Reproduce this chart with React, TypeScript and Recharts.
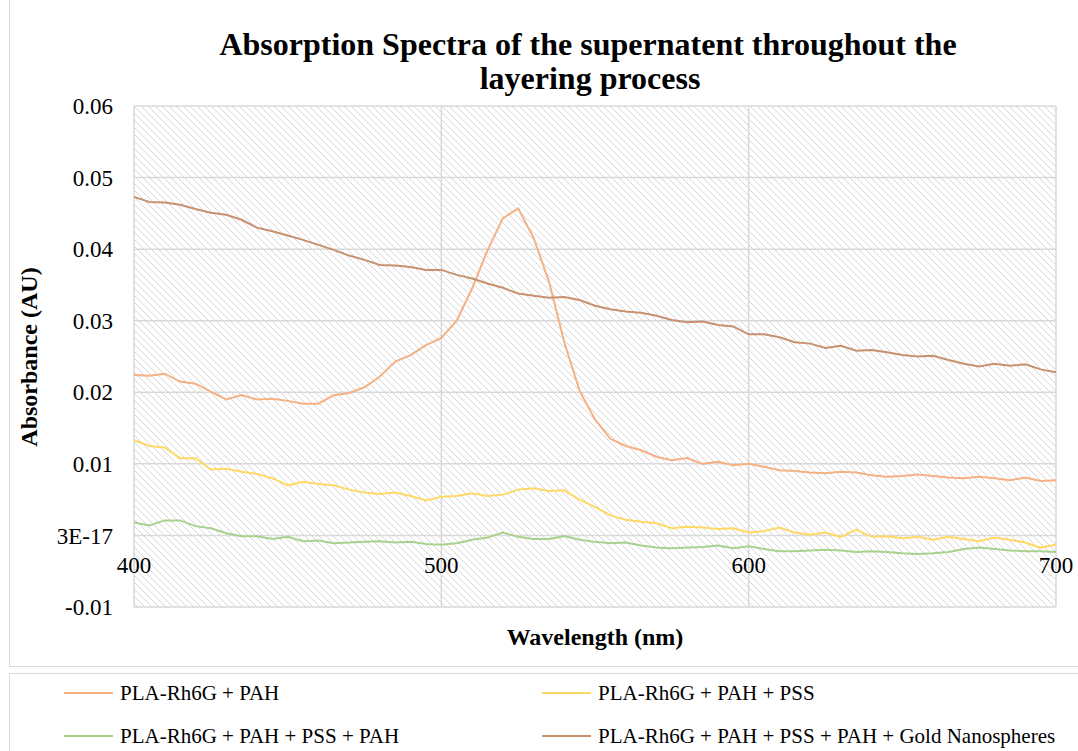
import React from "react";
import { LineChart, Line, XAxis, YAxis, CartesianGrid } from "recharts";

const wavelengths = [
  400, 405, 410, 415, 420, 425, 430, 435, 440, 445, 450, 455, 460, 465, 470,
  475, 480, 485, 490, 495, 500, 505, 510, 515, 520, 525, 530, 535, 540, 545,
  550, 555, 560, 565, 570, 575, 580, 585, 590, 595, 600, 605, 610, 615, 620,
  625, 630, 635, 640, 645, 650, 655, 660, 665, 670, 675, 680, 685, 690, 695,
  700,
];

// PLA-Rh6G + PAH
const pah = [
  0.0224, 0.0223, 0.0226, 0.0215, 0.0212, 0.0201, 0.019, 0.0196, 0.019, 0.0191,
  0.0188, 0.0184, 0.0184, 0.0196, 0.0199, 0.0207, 0.0222, 0.0243, 0.0252, 0.0266,
  0.0276, 0.03, 0.0345, 0.0398, 0.0443, 0.0457, 0.0416, 0.0355, 0.027, 0.0202,
  0.0162, 0.0135, 0.0125, 0.0119, 0.011, 0.0105, 0.0108, 0.01, 0.0103, 0.0098,
  0.01, 0.0096, 0.0091, 0.009, 0.0088, 0.0087, 0.0089, 0.0088, 0.0084, 0.0082,
  0.0083, 0.0085, 0.0083, 0.0081, 0.008, 0.0082, 0.008, 0.0077, 0.0081, 0.0076,
  0.0077,
];

// PLA-Rh6G + PAH + PSS
const pahPss = [
  0.0133, 0.0125, 0.0123, 0.0108, 0.0108, 0.0092, 0.0093, 0.0089, 0.0086, 0.008,
  0.007, 0.0075, 0.0072, 0.007, 0.0064, 0.006, 0.0058, 0.006, 0.0055, 0.0049,
  0.0054, 0.0055, 0.0059, 0.0055, 0.0057, 0.0064, 0.0066, 0.0062, 0.0063, 0.005,
  0.004, 0.0028, 0.0022, 0.0019, 0.0017, 0.001, 0.0012, 0.0011, 0.0009, 0.001,
  0.0004, 0.0006, 0.0011, 0.0004, 0.0001, 0.0004, -0.0002, 0.0008, -0.0002, -0.0001,
  -0.0004, -0.0002, -0.0006, -0.0002, -0.0005, -0.0008, -0.0003, -0.0006, -0.001, -0.0017,
  -0.0013,
];

// PLA-Rh6G + PAH + PSS + PAH
const pahPssPah = [
  0.0018, 0.0014, 0.0021, 0.0021, 0.0013, 0.001, 0.0003, -0.0001, -0.0001, -0.0005,
  -0.0002, -0.0008, -0.0007, -0.0011, -0.001, -0.0009, -0.0008, -0.001, -0.0009, -0.0012,
  -0.0013, -0.0011, -0.0006, -0.0003, 0.0004, -0.0002, -0.0005, -0.0005, -0.0001, -0.0006,
  -0.0009, -0.0011, -0.001, -0.0014, -0.0017, -0.0018, -0.0017, -0.0016, -0.0014, -0.0018,
  -0.0015, -0.0019, -0.0022, -0.0022, -0.0021, -0.002, -0.0021, -0.0023, -0.0022, -0.0023,
  -0.0025, -0.0026, -0.0025, -0.0023, -0.0019, -0.0017, -0.0019, -0.0021, -0.0022, -0.0022,
  -0.0023,
];

// PLA-Rh6G + PAH + PSS + PAH + Gold Nanospheres
const gold = [
  0.0473, 0.0466, 0.0465, 0.0462, 0.0456, 0.0451, 0.0448, 0.0441, 0.043, 0.0425,
  0.0419, 0.0413, 0.0406, 0.0399, 0.0391, 0.0385, 0.0378, 0.0377, 0.0375, 0.0371,
  0.0371, 0.0364, 0.0359, 0.0352, 0.0346, 0.0338, 0.0335, 0.0332, 0.0333, 0.0329,
  0.0321, 0.0316, 0.0313, 0.0311, 0.0307, 0.0301, 0.0298, 0.0299, 0.0294, 0.0292,
  0.0281, 0.0281, 0.0277, 0.027, 0.0268, 0.0262, 0.0265, 0.0258, 0.0259, 0.0256,
  0.0252, 0.025, 0.0251, 0.0245, 0.024, 0.0236, 0.024, 0.0237, 0.0239, 0.0232,
  0.0228,
];

const seriesNames = [
  "PLA-Rh6G + PAH",
  "PLA-Rh6G + PAH + PSS",
  "PLA-Rh6G + PAH + PSS + PAH",
  "PLA-Rh6G + PAH + PSS + PAH + Gold Nanospheres",
];
const seriesColors = ["#f4b183", "#ffd966", "#a9d18e", "#c8916e"];
const seriesKeys = ["s1", "s2", "s3", "s4"];

const xTicks = [400, 500, 600, 700];
const yTicks = [-0.01, 0, 0.01, 0.02, 0.03, 0.04, 0.05, 0.06];
const yTickLabels = ["-0.01", "3E-17", "0.01", "0.02", "0.03", "0.04", "0.05", "0.06"];

const data = wavelengths.map((w, i) => ({
  w,
  s1: pah[i],
  s2: pahPss[i],
  s3: pahPssPah[i],
  s4: gold[i],
}));

const FONT = '"Liberation Serif", "Times New Roman", serif';

// x labels sit on the zero line, not at the bottom of the plot
const XTick = (props: any) => {
  const { x, y, payload } = props;
  return (
    <text x={x} y={y - 50} dy="0.71em" textAnchor="middle" fill="#000" fontSize={23} fontFamily={FONT}>
      {payload.value}
    </text>
  );
};

export default function App() {
  return (
    <div
      style={{
        position: "absolute",
        left: 0,
        top: 0,
        width: 1078,
        height: 751,
        overflow: "hidden",
        background: "#fff",
        fontFamily: FONT,
      }}
    >
      <svg width={0} height={0} style={{ position: "absolute" }}>
        <defs>
          <pattern id="hatch" width={7} height={7} patternUnits="userSpaceOnUse">
            <path d="M0,0 L7,7 M-1,6 L1,8 M6,-1 L8,1" stroke="#cfcfcf" strokeWidth={0.85} />
          </pattern>
        </defs>
      </svg>

      <div
        style={{
          position: "absolute",
          left: 9,
          top: -4,
          width: 1080,
          height: 671,
          border: "1.5px solid #d9d9d9",
          boxSizing: "border-box",
        }}
      />

      <div style={{ position: "absolute", left: 0, top: 0 }}>
        <LineChart
          width={1078}
          height={667}
          data={data}
          margin={{ top: 106, right: 22, bottom: 30, left: 74 }}
        >
          <CartesianGrid stroke="#d9d9d9" strokeWidth={1.5} fill="url(#hatch)" />
          <XAxis
            dataKey="w"
            type="number"
            domain={[400, 700]}
            ticks={xTicks}
            axisLine={false}
            tickLine={false}
            tickSize={0}
            tickMargin={0}
            height={30}
            tick={<XTick />}
          />
          <YAxis
            type="number"
            domain={[-0.01, 0.06]}
            ticks={yTicks}
            axisLine={false}
            tickLine={false}
            tickSize={0}
            tickMargin={21}
            width={60}
            tick={{ fill: "#000", fontSize: 23, fontFamily: FONT }}
            tickFormatter={(v: number) => yTickLabels[yTicks.indexOf(v)] ?? String(v)}
          />
          {seriesKeys.map((k, i) => (
            <Line
              key={k}
              dataKey={k}
              name={seriesNames[i]}
              type="linear"
              stroke={seriesColors[i]}
              strokeWidth={2}
              dot={false}
              isAnimationActive={false}
            />
          ))}
        </LineChart>
      </div>

      <svg
        width={1078}
        height={667}
        style={{ position: "absolute", left: 0, top: 0, pointerEvents: "none" }}
      >
        <text x={588} y={55} textAnchor="middle" fontSize={32} fontWeight="bold" fontFamily={FONT}>
          Absorption Spectra of the supernatent throughout the
        </text>
        <text x={590} y={89} textAnchor="middle" fontSize={32} fontWeight="bold" fontFamily={FONT}>
          layering process
        </text>
        <text
          x={37}
          y={357}
          textAnchor="middle"
          fontSize={24}
          fontWeight="bold"
          fontFamily={FONT}
          transform="rotate(-90 37 357)"
        >
          Absorbance (AU)
        </text>
        <text x={595} y={645} textAnchor="middle" fontSize={24} fontWeight="bold" fontFamily={FONT}>
          Wavelength (nm)
        </text>
      </svg>

      <div
        style={{
          position: "absolute",
          left: 9,
          top: 673,
          width: 1080,
          height: 100,
          border: "1.5px solid #d9d9d9",
          boxSizing: "border-box",
        }}
      >
        {seriesNames.map((name, i) => {
          const col = i % 2;
          const row = Math.floor(i / 2);
          return (
            <div
              key={name}
              style={{
                position: "absolute",
                left: 54 + col * 478,
                top: 6 + row * 43,
                height: 26,
                display: "flex",
                alignItems: "center",
                whiteSpace: "nowrap",
                fontSize: 21,
                color: "#000",
              }}
            >
              <span
                style={{
                  display: "inline-block",
                  width: 49,
                  height: 0,
                  borderTop: `2px solid ${seriesColors[i]}`,
                  marginRight: 7,
                }}
              />
              {name}
            </div>
          );
        })}
      </div>
    </div>
  );
}
